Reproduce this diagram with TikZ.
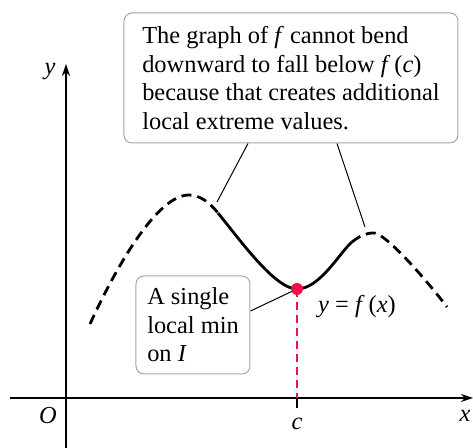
\documentclass[tikz,border=0pt]{standalone}
\usepackage{fontspec}
\setmainfont{Liberation Serif}
\usetikzlibrary{arrows.meta}
\definecolor{pinkred}{RGB}{238,18,72}

\begin{document}
\begin{tikzpicture}[x=0.5pt, y=0.5pt, font=\fontsize{12.2}{14.2}\selectfont,
    note/.style={rectangle, draw=gray!70, line width=0.5pt, rounded corners=4pt, align=left},
    axis/.style={line width=0.6pt, -{Stealth[length=6pt, width=4pt]}},
    leader/.style={line width=0.5pt},
    graph/.style={line width=1.4pt},
    guess/.style={graph, dash pattern=on 5pt off 3pt}]
    \useasboundingbox (0,0) rectangle (473,448);

    % Axes
    \coordinate (xstart) at (10,50);
    \coordinate (xtip) at (473,50);
    \coordinate (ystart) at (66,0);
    \coordinate (ytip) at (66,384);
    \draw[axis] (xstart) -- (xtip);
    \draw[axis] (ystart) -- (ytip);
    \node (origin) at (48,32) {\textit{O}};
    \node (xlabel) at (465,32) {\textit{x}};
    \node (ylabel) at (50,376) {\textit{y}};

    % Tick at c
    \coordinate (ctop) at (297,50);
    \coordinate (cbot) at (297,40);
    \draw[line width=0.6pt] (ctop) -- (cbot);
    \node (clabel) at (297,24) {\textit{c}};

    % Graph of f
    \draw[guess] (90,124) .. controls (118,185) and (158,253) .. (189,253)
        .. controls (200,253) and (210,245) .. (218,235);
    \draw[graph] (218,235) .. controls (240,208) and (275,159) .. (297,159)
        .. controls (320,159) and (340,196) .. (352,206);
    \draw[guess] (352,206) .. controls (360,212.4) and (366,215) .. (374,215)
        .. controls (385,215) and (425,170) .. (447,141);
    \node (flabel) at (357,141) {\textit{y} = \textit{f}\,(\textit{x})};

    % Callouts
    \node[note, minimum width=167pt, minimum height=65pt] (bend) at (291,370)
        {The graph of \textit{f} cannot bend\\downward to fall below \textit{f}\,(\textit{c})\\because that creates additional\\local extreme values.};
    \node[note, minimum width=57pt, minimum height=49pt] (single) at (193,123)
        {A single\\local min\\on \textit{I}};
    \coordinate (p1) at (217,246);
    \coordinate (p2) at (365,221);
    \coordinate (minpt) at (297,159);
    \draw[leader] ([xshift=-21.5pt]bend.south) -- (p1);
    \draw[leader] ([xshift=23pt]bend.south) -- (p2);
    \draw[leader] ([yshift=7pt]single.east) -- (minpt);

    % Local minimum
    \draw[pinkred, line width=0.6pt, dash pattern=on 4pt off 2.5pt] (minpt) -- (ctop);
    \node[circle, fill=pinkred, inner sep=0pt, minimum size=6pt] (min) at (minpt) {};
\end{tikzpicture}
\end{document}
